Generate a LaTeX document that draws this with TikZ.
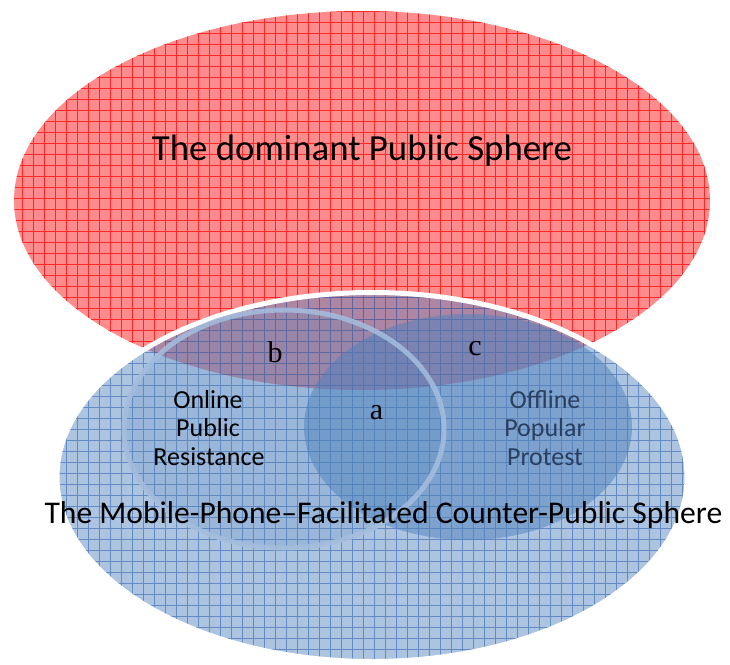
\documentclass[tikz,border=0pt]{standalone}
\usepackage{fontspec}
\setmainfont{Carlito}
\newfontfamily\serifletters{Liberation Serif}
\definecolor{redfill}{RGB}{255,140,140}
\definecolor{redgrid}{RGB}{255,40,40}
\definecolor{bluebase}{RGB}{79,129,189}
\definecolor{bluegrid}{RGB}{60,110,180}
\definecolor{ringblue}{RGB}{165,190,222}
\definecolor{offtext}{RGB}{42,62,95}
\tikzset{
  bigtitle/.style={font=\fontsize{36.8}{44}\selectfont, anchor=base, inner sep=0pt},
  subtitle/.style={font=\fontsize{31.6}{38}\selectfont, anchor=base, inner sep=0pt},
  innertext/.style={font=\fontsize{26}{28.5}\selectfont, anchor=base, inner sep=0pt},
  letter/.style={font=\serifletters\fontsize{30}{34}\selectfont, anchor=base, inner sep=0pt},
}
\begin{document}
\begin{tikzpicture}[x=1pt,y=-1pt]
\useasboundingbox (0,0) rectangle (730,664);
% dominant public sphere (red)
\fill[redfill] (362,200.5) ellipse [x radius=348, y radius=189.5];
\begin{scope}
  \clip (362,200.5) ellipse [x radius=348, y radius=189.5];
  \draw[redgrid, line width=0.8pt, step=11pt] (0,0) grid (730,400);
\end{scope}
% counter-public sphere (blue)
\fill[bluebase, fill opacity=0.47] (372,477) ellipse [x radius=315, y radius=184.5];
\begin{scope}
  \clip (372,477) ellipse [x radius=315, y radius=184.5];
  \draw[bluegrid, line width=0.7pt, opacity=0.65, step=11pt] (0,280) grid (730,664);
\end{scope}
\draw[white, line width=5pt] (372,477) ellipse [x radius=315, y radius=184.5];
% offline popular protest
\fill[bluebase, fill opacity=0.5] (468,427) ellipse [x radius=164, y radius=113];
% online public resistance
\fill[bluebase, fill opacity=0.2] (284,429) ellipse [x radius=160, y radius=119];
\draw[ringblue, line width=5pt, opacity=0.85] (284,429) ellipse [x radius=160, y radius=119];
% texts
\node[bigtitle] (dom) at (362,160) {The dominant Public Sphere};
\node[innertext] (on1) at (208,408) {Online};
\node[innertext] (on2) at (208,436.5) {Public};
\node[innertext] (on3) at (209,465) {Resistance};
\node[innertext, text=offtext] (of1) at (545,408) {Offline};
\node[innertext, text=offtext] (of2) at (545,436.5) {Popular};
\node[innertext, text=offtext] (of3) at (545,465) {Protest};
\node[letter] (lb) at (275,362.5) {b};
\node[letter] (lc) at (475,355) {c};
\node[letter] (la) at (376.5,419.5) {a};
\node[subtitle] (mob) at (383.5,523) {The Mobile-Phone–Facilitated Counter-Public Sphere};
\end{tikzpicture}
\end{document}
